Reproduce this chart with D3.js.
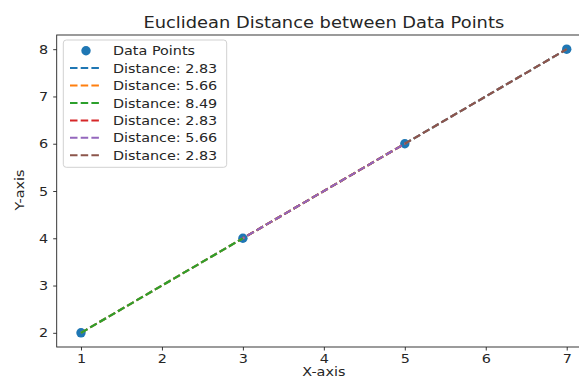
<!DOCTYPE html>
<html>
<head>
<meta charset="utf-8">
<script src="https://cdn.jsdelivr.net/npm/d3@7"></script>
<style>
  body { margin: 0; background: #fff; }
  text { font-family: "DejaVu Sans", sans-serif; fill: #262626; }
</style>
</head>
<body>
<svg id="chart"></svg>
<script>
// data
const xValues = [1, 3, 5, 7];
const yValues = [2, 4, 6, 8];
const pairs = [[0, 1], [0, 2], [0, 3], [1, 2], [1, 3], [2, 3]]; // drawn in this order
const distLabels = ["2.83", "5.66", "8.49", "2.83", "5.66", "2.83"];
const lineColors = ["#1f77b4", "#ff7f0e", "#2ca02c", "#d62728", "#9467bd", "#8c564b"];
const xTicks = [1, 2, 3, 4, 5, 6, 7];
const yTicks = [2, 3, 4, 5, 6, 7, 8];
const pointColor = "#1f77b4";

const W = 579, H = 380;
const sx = 1.15; // picture text is a bit wider than tall

// stretch text horizontally around its anchor
function squash(sel, k) {
    sel.each(function() {
        const t = d3.select(this);
        const x = +t.attr("x") || 0, y = +t.attr("y") || 0;
        t.attr("transform", `translate(${x},${y}) scale(${k},1) translate(${-x},${-y})`);
    });
}

const svg = d3.select("#chart").attr("width", W).attr("height", H);

const plot = {left: 56.7, top: 35, right: 591, bottom: 347};

const xScale = d3.scaleLinear().domain([0.7, 7.3]).range([plot.left, plot.right]);
const yScale = d3.scaleLinear().domain([1.7, 8.3]).range([plot.bottom, plot.top]);

// axes
const xAxisG = svg.append("g")
    .attr("transform", `translate(0,${plot.bottom})`)
    .call(d3.axisBottom(xScale).tickValues(xTicks).tickFormat(d3.format("d")).tickSize(3.5).tickPadding(3.5));
const yAxisG = svg.append("g")
    .attr("transform", `translate(${plot.left},0)`)
    .call(d3.axisLeft(yScale).tickValues(yTicks).tickFormat(d3.format("d")).tickSize(3.5).tickPadding(5));

[xAxisG, yAxisG].forEach(g => {
    g.select(".domain").remove();
    g.selectAll(".tick line").attr("stroke", "#222").attr("stroke-width", 0.9);
    g.selectAll(".tick text")
        .attr("font-family", "DejaVu Sans")
        .attr("font-size", 12.5)
        .attr("fill", "#262626")
        .call(squash, sx);
});

// frame (right side falls outside the picture)
svg.append("rect")
    .attr("x", plot.left).attr("y", plot.top)
    .attr("width", plot.right - plot.left).attr("height", plot.bottom - plot.top)
    .attr("fill", "none").attr("stroke", "#222").attr("stroke-width", 0.9);

// points
svg.append("g").selectAll("circle")
    .data(xValues)
    .join("circle")
    .attr("cx", d => xScale(d))
    .attr("cy", (d, i) => yScale(yValues[i]))
    .attr("r", 4.7)
    .attr("fill", pointColor);

// dash phase measured from the first point so overlapping lines line up
const px = i => xScale(xValues[i]), py = i => yScale(yValues[i]);
const fromStart = i => Math.hypot(px(i) - px(0), py(i) - py(0));

// distance lines, later ones over earlier ones
svg.append("g").selectAll("line")
    .data(pairs)
    .join("line")
    .attr("x1", d => px(d[0]))
    .attr("y1", d => py(d[0]))
    .attr("x2", d => px(d[1]))
    .attr("y2", d => py(d[1]))
    .attr("stroke", (d, i) => lineColors[i])
    .attr("stroke-width", 2.1)
    .attr("stroke-dasharray", "7.5,3.2")
    .attr("stroke-dashoffset", d => fromStart(d[0]));

// title and axis titles
svg.append("text")
    .attr("x", (plot.left + plot.right) / 2).attr("y", 28)
    .attr("text-anchor", "middle")
    .attr("font-size", 15)
    .text("Euclidean Distance between Data Points")
    .call(squash, 1.19);

svg.append("text")
    .attr("x", (plot.left + plot.right) / 2).attr("y", 376.5)
    .attr("text-anchor", "middle")
    .attr("font-size", 12.5)
    .text("X-axis")
    .call(squash, sx);

svg.append("text")
    .attr("transform", `translate(24,190) rotate(-90) scale(${sx},1)`)
    .attr("text-anchor", "middle")
    .attr("font-size", 12.5)
    .text("Y-axis");

// legend
const legend = svg.append("g");
legend.append("rect")
    .attr("x", 63.3).attr("y", 40)
    .attr("width", 163.4).attr("height", 127.3)
    .attr("rx", 3)
    .attr("fill", "#fff").attr("fill-opacity", 0.8)
    .attr("stroke", "#cccccc").attr("stroke-width", 0.9);

const rowY = i => 50.7 + i * 17.42;

legend.append("circle")
    .attr("cx", 86).attr("cy", rowY(0)).attr("r", 4.7).attr("fill", pointColor);

legend.selectAll(".leg-line")
    .data(distLabels)
    .join("line")
    .attr("class", "leg-line")
    .attr("x1", 70).attr("x2", 100)
    .attr("y1", (d, i) => rowY(i + 1)).attr("y2", (d, i) => rowY(i + 1))
    .attr("stroke", (d, i) => lineColors[i])
    .attr("stroke-width", 2)
    .attr("stroke-dasharray", "7.5,3.2");

legend.selectAll(".leg-text")
    .data(["Data Points"].concat(distLabels.map(d => `Distance: ${d}`)))
    .join("text")
    .attr("class", "leg-text")
    .attr("x", 113)
    .attr("y", (d, i) => rowY(i) + 4.6)
    .attr("font-size", 12.5)
    .text(d => d)
    .call(squash, sx);
</script>
</body>
</html>
